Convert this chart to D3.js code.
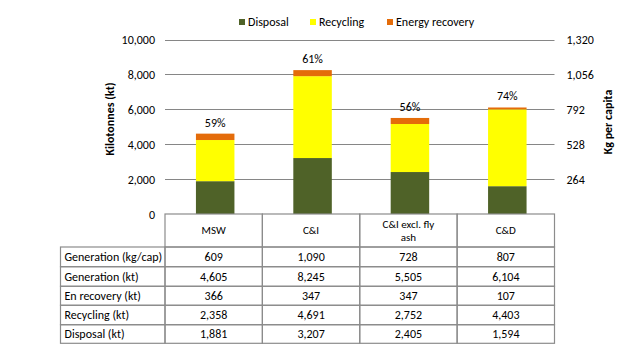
<!DOCTYPE html>
<html><head><meta charset="utf-8">
<script src="https://cdn.jsdelivr.net/npm/d3@7"></script>
<style>
body{margin:0;background:#fff;}
svg text{font-family:Calibri,Carlito,Lato,sans-serif;fill:#000;}
</style></head>
<body><svg id="c" width="622" height="360"></svg>
<script>
const categories = ["MSW","C&I","C&I excl. fly ash","C&D"];
const headerLines = [["MSW"],["C&I"],["C&I excl. fly","ash"],["C&D"]];
const disposal = [1881,3207,2405,1594];
const recycling = [2358,4691,2752,4403];
const energy = [366,347,347,107];
const generationKt = [4605,8245,5505,6104];
const generationKgCap = [609,1090,728,807];
const pctLabels = ["59%","61%","56%","74%"];
const leftTicks = [0,2000,4000,6000,8000,10000];
const rightTicks = [264,528,792,1056,1320];
const seriesNames = ["Disposal","Recycling","Energy recovery"];
const colors = ["#4F6228","#FFFF00","#E46C0A"];
const rowLabels = ["Generation (kg/cap)","Generation (kt)","En recovery (kt)","Recycling (kt)","Disposal (kt)"];
const rowData = [generationKgCap, generationKt, energy, recycling, disposal];

const svg = d3.select("#c");
const L = 165, R = 554.5, T = 39.5, B = 214;
const fmt = d3.format(",");
const x = d3.scaleBand().domain(categories).range([L,R]).paddingInner(0).paddingOuter(0);
const y = d3.scaleLinear().domain([0,10000]).range([B,T]);
const y2 = d3.scaleLinear().domain([0,1320]).range([B,T]);

// gridlines
svg.append("g").selectAll("line").data(leftTicks.filter(d=>d>0)).join("line")
  .attr("x1",L).attr("x2",R).attr("y1",d=>Math.round(y(d))+0.5).attr("y2",d=>Math.round(y(d))+0.5)
  .attr("stroke","#868686").attr("stroke-width",1);

// left axis
const ax = d3.axisLeft(y).tickValues(leftTicks).tickSize(0).tickPadding(10).tickFormat(fmt);
const gL = svg.append("g").attr("transform",`translate(${L},0)`).call(ax);
gL.select(".domain").remove();
gL.selectAll("text").style("font-size","12px").attr("dy","0.35em");

const ax2 = d3.axisRight(y2).tickValues(rightTicks).tickSize(0).tickPadding(12).tickFormat(fmt);
const gR = svg.append("g").attr("transform",`translate(${R},0)`).call(ax2);
gR.select(".domain").remove();
gR.selectAll("text").style("font-size","12px").attr("dy","0.35em");

// stacked bars
const rows = categories.map((c,i)=>({cat:c, Disposal:disposal[i], Recycling:recycling[i], "Energy recovery":energy[i]}));
const stack = d3.stack().keys(seriesNames)(rows);
const bw = 38.5;
svg.append("g").selectAll("g").data(stack).join("g").attr("fill",(d,i)=>colors[i])
  .selectAll("rect").data(d=>d).join("rect")
  .attr("x",d=>x(d.data.cat)+x.bandwidth()/2-bw/2+1.5)
  .attr("width",bw)
  .attr("y",d=>y(d[1]))
  .attr("height",d=>y(d[0])-y(d[1]));

// pct labels
svg.append("g").selectAll("text").data(categories).join("text")
  .attr("x",d=>x(d)+x.bandwidth()/2+1.5)
  .attr("y",(d,i)=>y(disposal[i]+recycling[i]+energy[i])-7)
  .attr("text-anchor","middle").style("font-size","12px").text((d,i)=>pctLabels[i]);

// legend
const legX = [239,310,387];
const lg = svg.append("g").selectAll("g").data(seriesNames).join("g")
  .attr("transform",(d,i)=>`translate(${legX[i]},19)`);
lg.append("rect").attr("width",6).attr("height",6).attr("y",0).attr("fill",(d,i)=>colors[i]);
lg.append("text").attr("x",9).attr("y",3).attr("dy","0.35em").style("font-size","12px").text(d=>d);

// axis titles
svg.append("text").attr("transform","translate(114,119) rotate(-90)").attr("text-anchor","middle")
  .style("font-size","12px").style("font-weight","bold").text("Kilotonnes (kt)");
svg.append("text").attr("transform","translate(612,122) rotate(-90)").attr("text-anchor","middle")
  .style("font-size","12px").style("font-weight","bold").text("Kg per capita");

// table
const tableLeft = 60.5, headerBottom = 247;
const rowY = [247,266.7,286.3,305.3,324.7,343.3];
const tg = svg.append("g");
const stroke = "#8c8c8c";
// header cells
categories.forEach((c,i)=>{
  tg.append("rect").attr("x",x(c)).attr("y",B).attr("width",x.bandwidth()).attr("height",headerBottom-B)
    .attr("fill","none").attr("stroke",stroke).attr("stroke-width",1.2);
  const lines = headerLines[i];
  lines.forEach((ln,j)=>{
    tg.append("text").attr("x",x(c)+x.bandwidth()/2).attr("y",(B+headerBottom)/2 + (j-(lines.length-1)/2)*13.5)
      .attr("dy","0.35em").attr("text-anchor","middle").style("font-size","11px").text(ln);
  });
});
rowLabels.forEach((lab,r)=>{
  const y0=rowY[r], y1=rowY[r+1];
  tg.append("rect").attr("x",tableLeft).attr("y",y0).attr("width",L-tableLeft).attr("height",y1-y0)
    .attr("fill","none").attr("stroke",stroke).attr("stroke-width",1.2);
  tg.append("text").attr("x",tableLeft+4).attr("y",(y0+y1)/2).attr("dy","0.35em").style("font-size","12px").text(lab);
  categories.forEach((c,i)=>{
    tg.append("rect").attr("x",x(c)).attr("y",y0).attr("width",x.bandwidth()).attr("height",y1-y0)
      .attr("fill","none").attr("stroke",stroke).attr("stroke-width",1.2);
    tg.append("text").attr("x",x(c)+x.bandwidth()/2).attr("y",(y0+y1)/2).attr("dy","0.35em")
      .attr("text-anchor","middle").style("font-size","12px").text(fmt(rowData[r][i]));
  });
});
</script></body></html>
